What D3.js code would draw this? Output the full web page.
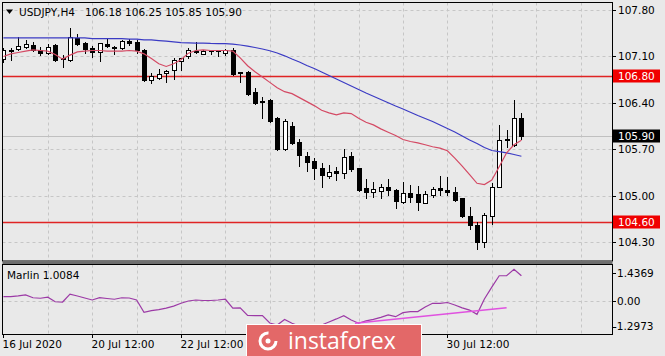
<!DOCTYPE html>
<html><head><meta charset="utf-8">
<script src="https://cdn.jsdelivr.net/npm/d3@7"></script>
<style>html,body{margin:0;padding:0;background:#e9e9e9;}svg{display:block;font-family:"DejaVu Sans",sans-serif;}</style>
</head><body><svg id="c" width="665" height="356"></svg>
<script>
const symbol = "USDJPY,H4";
const opens = [107.06,107.19,107.21,107.24,107.27,107.20,107.15,107.27,107.06,107.05,107.38,107.30,107.23,107.17,107.29,107.23,107.23,107.33,107.32,107.20,106.75,106.78,106.85,106.90,107.03,107.10,107.19,107.14,107.19,107.18,107.15,107.20,106.85,106.87,106.56,106.43,106.44,106.17,105.71,106.05,105.81,105.60,105.53,105.42,105.30,105.37,105.34,105.60,105.42,105.12,105.06,105.07,105.13,105.09,104.91,105.04,105.03,104.89,105.01,105.12,105.09,105.06,104.97,104.70,104.56,104.31,104.70,105.13,105.84,105.77,106.18];
const highs = [107.23,107.23,107.40,107.35,107.32,107.24,107.29,107.29,107.12,107.53,107.44,107.32,107.26,107.31,107.36,107.26,107.35,107.36,107.35,107.21,106.85,106.91,106.90,107.08,107.08,107.23,107.32,107.20,107.20,107.20,107.21,107.23,106.87,106.88,106.62,106.49,106.46,106.19,106.16,106.11,105.86,105.66,105.57,105.50,105.46,105.43,105.71,105.66,105.42,105.25,105.21,105.18,105.25,105.10,105.21,105.16,105.15,105.08,105.13,105.30,105.28,105.13,104.97,104.83,104.61,104.74,105.19,106.07,105.99,106.45,106.25];
const lows = [107.02,107.05,107.20,107.23,107.18,107.12,107.14,107.03,106.94,107.03,107.27,107.15,107.09,107.03,107.25,107.14,107.21,107.27,107.15,106.73,106.70,106.76,106.72,106.76,106.90,107.08,107.15,107.13,107.14,107.10,107.12,106.82,106.72,106.52,106.38,106.17,106.11,105.69,105.69,105.78,105.45,105.37,105.25,105.13,105.27,105.24,105.27,105.37,105.07,104.97,104.98,104.97,105.01,104.82,104.89,104.91,104.79,104.89,104.99,105.01,105.01,104.92,104.68,104.50,104.20,104.23,104.58,105.13,105.74,105.75,105.85];
const closes = [107.20,107.20,107.26,107.29,107.20,107.15,107.24,107.05,107.07,107.39,107.29,107.21,107.17,107.30,107.26,107.24,107.33,107.30,107.20,106.75,106.81,106.84,106.88,107.04,107.08,107.20,107.16,107.19,107.18,107.19,107.20,106.84,106.86,106.53,106.40,106.42,106.13,105.71,106.13,105.80,105.62,105.51,105.42,105.31,105.36,105.34,105.59,105.40,105.09,105.06,105.10,105.13,105.09,104.92,105.04,104.99,104.91,105.03,105.10,105.09,105.06,104.94,104.70,104.56,104.31,104.71,105.13,105.84,105.85,106.17,105.90];
const maSlow = [107.38,107.38,107.38,107.38,107.38,107.38,107.38,107.38,107.38,107.38,107.38,107.38,107.37,107.37,107.37,107.37,107.37,107.36,107.36,107.35,107.35,107.34,107.33,107.32,107.31,107.305,107.30,107.30,107.296,107.295,107.293,107.285,107.273,107.255,107.235,107.213,107.186,107.152,107.110,107.062,107.017,106.964,106.919,106.866,106.814,106.761,106.708,106.656,106.603,106.550,106.502,106.452,106.402,106.354,106.309,106.260,106.211,106.166,106.121,106.068,106.015,105.963,105.902,105.842,105.790,105.729,105.684,105.666,105.649,105.624,105.597];
const maFast = [107.10,107.14,107.16,107.18,107.20,107.19,107.18,107.13,107.06,107.12,107.17,107.18,107.19,107.19,107.18,107.18,107.18,107.19,107.18,107.14,107.07,106.99,106.95,106.99,107.05,107.15,107.19,107.20,107.19,107.19,107.19,107.18,107.08,106.96,106.87,106.79,106.71,106.63,106.57,106.54,106.48,106.42,106.36,106.29,106.25,106.22,106.25,106.24,106.17,106.11,106.07,106.01,105.96,105.91,105.85,105.82,105.80,105.77,105.74,105.72,105.68,105.57,105.45,105.32,105.19,105.17,105.24,105.44,105.65,105.77,105.84];
const marlin = [0.18,0.18,0.21,0.25,0.14,0.12,0.16,-0.02,-0.03,0.28,0.21,0.13,0.05,0.14,0.11,0.08,0.14,0.13,0.05,-0.44,-0.37,-0.33,-0.27,-0.19,-0.08,0.01,0.05,0.03,0.03,0.05,0.08,-0.27,-0.26,-0.56,-0.57,-0.57,-0.86,-0.94,-0.72,-0.87,-0.98,-1.06,-1.02,-0.94,-0.82,-0.70,-0.57,-0.74,-0.87,-0.78,-0.72,-0.64,-0.54,-0.61,-0.45,-0.41,-0.41,-0.23,-0.08,-0.08,-0.05,-0.15,-0.26,-0.35,-0.52,0.09,0.56,1.01,1.01,1.27,1.0084];
const marlinName = "Marlin";
const trendBars = [47.5, 68];
const trendValues = [-0.873, -0.255];
const levels = [106.80, 104.60];
const lastPrice = 105.90;
const priceTicks = [107.80, 107.10, 106.40, 105.70, 105.00, 104.30];
const marlinTicks = [1.4369, 0.00, -1.2973];
const timeLabels = ["16 Jul 2020", "20 Jul 12:00", "22 Jul 12:00", "30 Jul 12:00"];
const timeLabelBars = [0, 12, 24, 60];
const timeTickBars = [0, 12, 24, 36, 48, 60];
const gridBars = d3.range(6, 90, 6);

const svg = d3.select("#c");
const L = 2.5, R = 612.5, T = 2.5, MB = 261, IT = 264.5, IB = 334.5;
const x = d3.scaleLinear().domain([0, 70]).range([3.4, 521.4]);
const y = d3.scaleLinear().domain([104.30, 107.80]).range([242.4, 10]);
const yi = d3.scaleLinear().domain([-1.2973, 1.4369]).range([334, 265]);
const px = v => Math.round(v) + 0.5;

svg.append("rect").attr("width", 665).attr("height", 356).attr("fill", "#e9e9e9");
const defs = svg.append("defs");
defs.append("clipPath").attr("id", "cm").append("rect").attr("x", L).attr("y", T).attr("width", R - L).attr("height", MB - T);
defs.append("clipPath").attr("id", "ci").append("rect").attr("x", L).attr("y", IT).attr("width", R - L).attr("height", IB - IT);

const main = svg.append("g").attr("clip-path", "url(#cm)");
const ind = svg.append("g").attr("clip-path", "url(#ci)");

// grid main
main.selectAll("line.vg").data(gridBars).join("line")
  .attr("x1", d => px(x(d))).attr("x2", d => px(x(d))).attr("y1", T).attr("y2", MB)
  .attr("stroke", "#c6c6c6").attr("stroke-dasharray", "3,3");
main.selectAll("line.hg").data(priceTicks).join("line")
  .attr("x1", L).attr("x2", R).attr("y1", d => px(y(d))).attr("y2", d => px(y(d)))
  .attr("stroke", "#c6c6c6").attr("stroke-dasharray", "3,3");
// grid indicator
ind.selectAll("line.vg").data(gridBars).join("line")
  .attr("x1", d => px(x(d))).attr("x2", d => px(x(d))).attr("y1", IT).attr("y2", IB)
  .attr("stroke", "#c6c6c6").attr("stroke-dasharray", "3,3");
ind.append("line").attr("x1", L).attr("x2", R).attr("y1", px(yi(0))).attr("y2", px(yi(0)))
  .attr("stroke", "#c6c6c6").attr("stroke-dasharray", "3,3");

// last price line
main.append("line").attr("x1", L).attr("x2", R).attr("y1", px(y(lastPrice))).attr("y2", px(y(lastPrice)))
  .attr("stroke", "#c0c0c0");
// levels
main.selectAll("line.lv").data(levels).join("line")
  .attr("x1", L).attr("x2", R).attr("y1", d => px(y(d))).attr("y2", d => px(y(d)))
  .attr("stroke", "#e02424").attr("stroke-width", 1.3);

// candles
const bars = d3.range(opens.length).map(i => ({i, o: opens[i], h: highs[i], l: lows[i], c: closes[i]}));
main.selectAll("line.wick").data(bars).join("line")
  .attr("x1", d => px(x(d.i))).attr("x2", d => px(x(d.i)))
  .attr("y1", d => Math.round(y(d.h))).attr("y2", d => Math.round(y(d.l)) + 1)
  .attr("stroke", "#000");
const bodyTop = d => Math.round(y(Math.max(d.o, d.c)));
const bodyBot = d => Math.round(y(Math.min(d.o, d.c)));
main.selectAll("rect.body").data(bars.filter(d => bodyBot(d) - bodyTop(d) >= 1)).join("rect")
  .attr("x", d => Math.round(x(d.i)) - 1.5).attr("width", 4)
  .attr("y", d => bodyTop(d) + 0.5).attr("height", d => bodyBot(d) - bodyTop(d))
  .attr("fill", d => d.c >= d.o ? "#fff" : "#000").attr("stroke", "#000");
main.selectAll("line.doji").data(bars.filter(d => bodyBot(d) - bodyTop(d) < 1)).join("line")
  .attr("x1", d => Math.round(x(d.i)) - 2).attr("x2", d => Math.round(x(d.i)) + 3)
  .attr("y1", d => bodyTop(d) + 0.5).attr("y2", d => bodyTop(d) + 0.5)
  .attr("stroke", "#000");

// moving averages
const lineMain = d3.line().x((d, i) => x(i)).y(d => y(d));
main.append("path").attr("d", lineMain(maSlow)).attr("fill", "none").attr("stroke", "#3b3bc4").attr("stroke-width", 1.2);
main.append("path").attr("d", lineMain(maFast)).attr("fill", "none").attr("stroke", "#d44a64").attr("stroke-width", 1.2);

// indicator
const lineInd = d3.line().x((d, i) => x(i)).y(d => yi(d));
ind.append("path").attr("d", lineInd(marlin)).attr("fill", "none").attr("stroke", "#9c3aa6").attr("stroke-width", 1.2);
ind.append("line").attr("x1", x(trendBars[0])).attr("x2", x(trendBars[1]))
  .attr("y1", yi(trendValues[0])).attr("y2", yi(trendValues[1]))
  .attr("stroke", "#e052e0").attr("stroke-width", 1.6);

// frames
svg.append("rect").attr("x", L).attr("y", T).attr("width", R - L).attr("height", MB - T).attr("fill", "none").attr("stroke", "#000");
svg.append("rect").attr("x", L).attr("y", 261.5).attr("width", R - L).attr("height", 3).attr("fill", "#6e6e6e");
svg.append("rect").attr("x", L).attr("y", IT).attr("width", R - L).attr("height", IB - IT).attr("fill", "none").attr("stroke", "#000");

// title
svg.append("path").attr("d", "M6,9.5 L13,9.5 L9.5,14 Z").attr("fill", "#000");
svg.append("text").attr("x", 19).attr("y", 16).attr("font-size", 10.5).text(symbol);
const last = bars[bars.length - 1];
svg.append("text").attr("x", 85).attr("y", 16).attr("font-size", 10.5)
  .text([last.o, last.h, last.l, last.c].map(v => v.toFixed(2)).join(" "));
svg.append("text").attr("x", 7).attr("y", 279).attr("font-size", 10.5)
  .text(marlinName + " " + marlin[marlin.length - 1].toFixed(4));

// right axis main
const ax = svg.append("g");
ax.selectAll("line.t").data(priceTicks).join("line")
  .attr("x1", 612.5).attr("x2", 616).attr("y1", d => px(y(d))).attr("y2", d => px(y(d))).attr("stroke", "#000");
ax.selectAll("text.t").data(priceTicks).join("text")
  .attr("x", 618).attr("y", d => y(d)).attr("dy", "0.36em").attr("font-size", 10.5).text(d => d.toFixed(2));
// level boxes
const boxes = levels.map(v => ({v, fill: "#f00000"})).concat([{v: lastPrice, fill: "#000"}]);
ax.selectAll("rect.b").data(boxes).join("rect")
  .attr("x", 613).attr("width", 47).attr("y", d => Math.round(y(d.v)) - 6.5).attr("height", 13).attr("fill", d => d.fill);
ax.selectAll("text.b").data(boxes).join("text")
  .attr("x", 618).attr("y", d => y(d.v)).attr("dy", "0.36em").attr("font-size", 10.5).attr("fill", "#fff").text(d => d.v.toFixed(2));

// indicator axis
const iy = [273.3, yi(0), 326.7];
ax.selectAll("line.it").data(marlinTicks).join("line")
  .attr("x1", 612.5).attr("x2", 616).attr("y1", (d, i) => px(iy[i])).attr("y2", (d, i) => px(iy[i])).attr("stroke", "#000");
ax.selectAll("text.it").data(marlinTicks).join("text")
  .attr("x", d => d < 0 ? 613 : 617).attr("y", (d, i) => iy[i]).attr("dy", "0.36em").attr("font-size", 10.5)
  .text(d => d === 0 ? "0.00" : d.toFixed(4));

// time axis
ax.selectAll("line.xt").data(timeTickBars).join("line")
  .attr("x1", d => px(x(d))).attr("x2", d => px(x(d))).attr("y1", 334.5).attr("y2", 338).attr("stroke", "#000");
ax.selectAll("text.xt").data(timeLabels).join("text")
  .attr("x", (d, i) => Math.round(x(timeLabelBars[i])) - 0.5).attr("y", 348).attr("font-size", 10.5).text(d => d);

// watermark logo
const logo = svg.append("g");
logo.append("rect").attr("x", 246.5).attr("y", 324.5).attr("width", 175).attr("height", 34).attr("fill", "#e36868").attr("stroke", "#fff");
logo.append("circle").attr("cx", 268).attr("cy", 341).attr("r", 8).attr("fill", "none").attr("stroke", "#fff").attr("stroke-width", 3)
  .attr("stroke-dasharray", "38,12");
logo.append("circle").attr("cx", 268).attr("cy", 341).attr("r", 2.5).attr("fill", "#fff");
logo.append("text").attr("x", 288).attr("y", 349).attr("font-size", 23).attr("font-family", "'Open Sans',sans-serif").attr("fill", "#fff").text("instaforex");
</script></body></html>
